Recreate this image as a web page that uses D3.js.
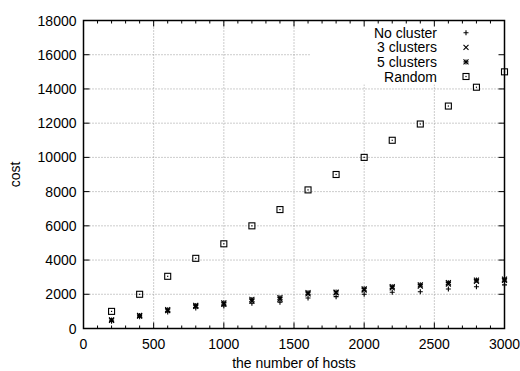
<!DOCTYPE html>
<html><head><meta charset="utf-8">
<script src="https://cdn.jsdelivr.net/npm/d3@7"></script>
<style>body{margin:0;background:#fff}svg{display:block}text{font-family:"Liberation Sans",Arial,sans-serif;fill:#000}</style>
</head><body>
<script>
const hosts = [200,400,600,800,1000,1200,1400,1600,1800,2000,2200,2400,2600,2800,3000];
const noCluster = [430,690,960,1200,1320,1480,1540,1780,1860,2000,2120,2150,2310,2440,2550];
const clusters3 = [470,720,1050,1300,1430,1620,1720,2020,2080,2250,2380,2470,2600,2750,2820];
const clusters5 = [500,760,1100,1350,1500,1700,1800,2090,2130,2320,2440,2550,2680,2830,2880];
const randomCost = [1000,2000,3050,4100,4950,6000,6950,8100,9000,10000,11000,11950,13000,14100,15000];
const seriesNames = ["No cluster","3 clusters","5 clusters","Random"];
const xTicks = [0,500,1000,1500,2000,2500,3000];
const yTicks = [0,2000,4000,6000,8000,10000,12000,14000,16000,18000];
const xLabel = "the number of hosts", yLabel = "cost";

const W=520,H=371;
const svg=d3.select("body").append("svg").attr("width",W).attr("height",H);
const L=83.5,R=504.5,T=20.5,B=328.5;
const x=d3.scaleLinear().domain([0,3000]).range([L,R]);
const y=d3.scaleLinear().domain([0,18000]).range([B,T]);

// grid
const g=svg.append("g");
g.selectAll("line.gx").data(xTicks.filter(d=>d>0&&d<3000)).join("line")
 .attr("x1",d=>x(d)).attr("x2",d=>x(d)).attr("y1",B).attr("y2",T)
 .attr("stroke","#999").attr("stroke-width",1).attr("stroke-dasharray","1,2");
g.selectAll("line.gy").data(yTicks.filter(d=>d>0&&d<18000)).join("line")
 .attr("x1",L).attr("x2",R).attr("y1",d=>y(d)).attr("y2",d=>y(d))
 .attr("stroke","#999").attr("stroke-width",1).attr("stroke-dasharray","1,2");

// legend box (opaque)
svg.append("rect").attr("x",310).attr("y",T+1).attr("width",R-310-1).attr("height",63).attr("fill","#fff");

// axes with mirrored ticks
const minor=d3.range(0,3001,100).filter(d=>d%500!==0);
const ax=svg.append("g").attr("stroke","#000");
ax.selectAll("line.xb").data(xTicks).join("line").attr("x1",d=>x(d)).attr("x2",d=>x(d)).attr("y1",B).attr("y2",B-6).attr("stroke-width",1);
ax.selectAll("line.xt").data(xTicks).join("line").attr("x1",d=>x(d)).attr("x2",d=>x(d)).attr("y1",T).attr("y2",T+6).attr("stroke-width",1);
ax.selectAll("line.xbm").data(minor).join("line").attr("x1",d=>x(d)).attr("x2",d=>x(d)).attr("y1",B).attr("y2",B-3).attr("stroke-width",1);
ax.selectAll("line.xtm").data(minor).join("line").attr("x1",d=>x(d)).attr("x2",d=>x(d)).attr("y1",T).attr("y2",T+3).attr("stroke-width",1);
ax.selectAll("line.yl").data(yTicks).join("line").attr("x1",L).attr("x2",L+6).attr("y1",d=>y(d)).attr("y2",d=>y(d)).attr("stroke-width",1);
ax.selectAll("line.yr").data(yTicks).join("line").attr("x1",R).attr("x2",R-6).attr("y1",d=>y(d)).attr("y2",d=>y(d)).attr("stroke-width",1);
svg.append("rect").attr("x",L).attr("y",T).attr("width",R-L).attr("height",B-T).attr("fill","none").attr("stroke","#000").attr("stroke-width",1.5);

svg.selectAll("text.xt").data(xTicks).join("text").attr("x",d=>x(d)).attr("y",349).attr("text-anchor","middle").attr("font-size",14).text(d=>d);
svg.selectAll("text.yt").data(yTicks).join("text").attr("x",L-7).attr("y",d=>y(d)+5).attr("text-anchor","end").attr("font-size",14).text(d=>d);
svg.append("text").attr("x",(L+R)/2).attr("y",368).attr("text-anchor","middle").attr("font-size",14).text(xLabel);
svg.append("text").attr("transform",`translate(20,${(T+B)/2}) rotate(-90)`).attr("text-anchor","middle").attr("font-size",14).text(yLabel);

// markers
const s=2.5;
function plus(sel){sel.append("path").attr("d",`M${-s},0H${s}M0,${-s}V${s}`).attr("stroke","#000").attr("stroke-width",1.1).attr("fill","none");}
function cross(sel){sel.append("path").attr("d",`M${-s},${-s}L${s},${s}M${-s},${s}L${s},${-s}`).attr("stroke","#000").attr("stroke-width",1.1).attr("fill","none");}
function star(sel){plus(sel);cross(sel);}
function square(sel){sel.append("rect").attr("x",-3).attr("y",-3).attr("width",6).attr("height",6).attr("fill","none").attr("stroke","#000").attr("stroke-width",1.1);
 sel.append("rect").attr("x",-0.6).attr("y",-0.6).attr("width",1.2).attr("height",1.2).attr("fill","#000");}
const series=[[noCluster,plus],[clusters3,cross],[clusters5,star],[randomCost,square]];
series.forEach(([vals,fn])=>{
  svg.append("g").selectAll("g").data(hosts.map((h,i)=>[h,vals[i]])).join("g")
   .attr("transform",d=>`translate(${x(d[0])},${y(d[1])})`).each(function(){fn(d3.select(this));});
});

// legend
seriesNames.forEach((n,i)=>{
  const yy=32.7+i*14.6;
  svg.append("text").attr("x",437).attr("y",yy+5).attr("text-anchor","end").attr("font-size",14).text(n);
  const gg=svg.append("g").attr("transform",`translate(466,${yy})`);
  series[i][1](gg);
});
</script>
</body></html>
